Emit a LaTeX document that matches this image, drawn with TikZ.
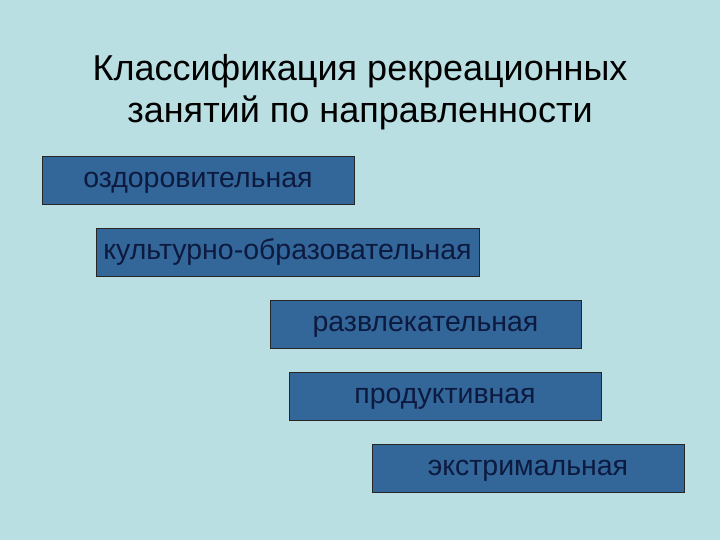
\documentclass[tikz,border=0pt]{standalone}
\usepackage{fontspec}
\setmainfont{Liberation Sans}
\definecolor{bgblue}{HTML}{B9DFE3}
\definecolor{boxblue}{HTML}{336699}
\definecolor{boxtext}{HTML}{0D1A40}
\tikzset{
  kind/.style={draw=black!85, fill=boxblue, line width=0.8pt, text=boxtext,
    minimum height=48pt, inner sep=0pt, text height=14.8pt, text depth=0pt,
    font=\fontsize{28.5}{32}\selectfont}
}
\begin{document}
\begin{tikzpicture}[x=1pt,y=-1pt]
    \fill[bgblue] (0,0) rectangle (720,540);
    \node [align=center, font=\fontsize{36}{42}\selectfont] (title) at (360,92)
      {Классификация рекреационных\\занятий по направленности};
    \node [kind, minimum width=312pt] (health) at (198,180) {оздоровительная};
    \node [kind, minimum width=383pt] (culture) at (287.5,252.5) {культурно-образовательная};
    \node [kind, minimum width=311pt] (fun) at (425.5,324) {развлекательная};
    \node [kind, minimum width=312pt] (product) at (445,396) {продуктивная};
    \node [kind, minimum width=312pt] (extreme) at (528,468) {экстримальная};
  \end{tikzpicture}
\end{document}
